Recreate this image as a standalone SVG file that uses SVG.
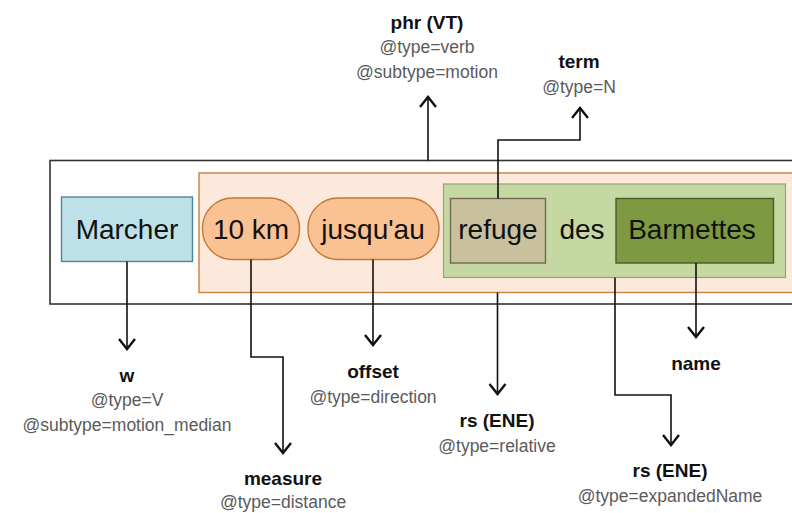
<svg xmlns="http://www.w3.org/2000/svg" width="792" height="513" viewBox="0 0 792 513">
<defs>
<marker id="arr" markerUnits="userSpaceOnUse" viewBox="-2 -2 14 20" refX="10" refY="8" markerWidth="14" markerHeight="20" orient="auto">
<path d="M0,0 L10,8 L0,16" fill="none" stroke="#111" stroke-width="2.4"/>
</marker>
<style>
.node{font-family:"Liberation Sans",Arial,sans-serif;font-size:28px;fill:#111;text-anchor:middle}
.lbl{font-family:"Liberation Sans",Arial,sans-serif;font-size:19px;font-weight:bold;fill:#111;text-anchor:middle}
.att{font-family:"Liberation Sans",Arial,sans-serif;font-size:17.5px;fill:#5a5a5a;text-anchor:middle}
.con{fill:none;stroke:#111;stroke-width:1.6;marker-end:url(#arr)}
</style>
</defs>
<rect width="792" height="513" fill="#fff"/>
<g id="outer"><rect x="50" y="160.5" width="770" height="143.5" fill="#fff" stroke="#333" stroke-width="1.6"/></g>
<g id="phrase"><rect x="199" y="173" width="620" height="119.5" fill="#fde8dc" stroke="#c8803e" stroke-width="1.4"/></g>
<g id="rsgroup"><rect x="443.5" y="184" width="342" height="93.5" fill="#c6d8a2" stroke="#8fa865" stroke-width="1.2"/></g>
<g id="marcher"><rect x="61.5" y="197" width="131" height="64.5" fill="#bde0e9" stroke="#4d8696" stroke-width="1.4"/><text class="node" x="127" y="239">Marcher</text></g>
<g id="km"><rect x="202.5" y="198" width="97" height="61.5" rx="30" fill="#fac293" stroke="#c27a32" stroke-width="1.4"/><text class="node" x="251" y="239">10 km</text></g>
<g id="jusqu"><rect x="308" y="198" width="131" height="61.5" rx="30" fill="#fac293" stroke="#c27a32" stroke-width="1.4"/><text class="node" x="373" y="239">jusqu'au</text></g>
<g id="refuge"><rect x="450.5" y="198.5" width="95" height="64.5" fill="#c8c09f" stroke="#6f6a50" stroke-width="1.4"/><text class="node" x="498" y="239">refuge</text></g>
<g id="des"><text class="node" x="582" y="239">des</text></g>
<g id="barmettes"><rect x="616" y="198.5" width="157.5" height="64.5" fill="#7d9a41" stroke="#485a2c" stroke-width="1.4"/><text class="node" x="692" y="239">Barmettes</text></g>
<g id="connectors">
<path class="con" d="M428,160.5 V97"/>
<path class="con" d="M498,198.5 V140 H580 V108"/>
<path class="con" d="M127,261.5 V349"/>
<path class="con" d="M251,259.5 V357 H283 V453"/>
<path class="con" d="M373,259.5 V345"/>
<path class="con" d="M497.5,292.5 V394"/>
<path class="con" d="M615,277.5 V395 H671 V445"/>
<path class="con" d="M696,263 V337"/>
</g>
<g id="l-phr"><text class="lbl" x="427" y="29">phr (VT)</text><text class="att" x="427" y="53">@type=verb</text><text class="att" x="427" y="78">@subtype=motion</text></g>
<g id="l-term"><text class="lbl" x="579" y="68">term</text><text class="att" x="579" y="93">@type=N</text></g>
<g id="l-w"><text class="lbl" x="127" y="382">w</text><text class="att" x="127" y="406">@type=V</text><text class="att" x="127" y="431">@subtype=motion_median</text></g>
<g id="l-measure"><text class="lbl" x="283" y="485">measure</text><text class="att" x="283" y="508">@type=distance</text></g>
<g id="l-offset"><text class="lbl" x="373" y="378">offset</text><text class="att" x="373" y="403">@type=direction</text></g>
<g id="l-rs1"><text class="lbl" x="497" y="427">rs (ENE)</text><text class="att" x="497" y="452">@type=relative</text></g>
<g id="l-rs2"><text class="lbl" x="670" y="477">rs (ENE)</text><text class="att" x="670" y="502">@type=expandedName</text></g>
<g id="l-name"><text class="lbl" x="696" y="370">name</text></g>
</svg>
